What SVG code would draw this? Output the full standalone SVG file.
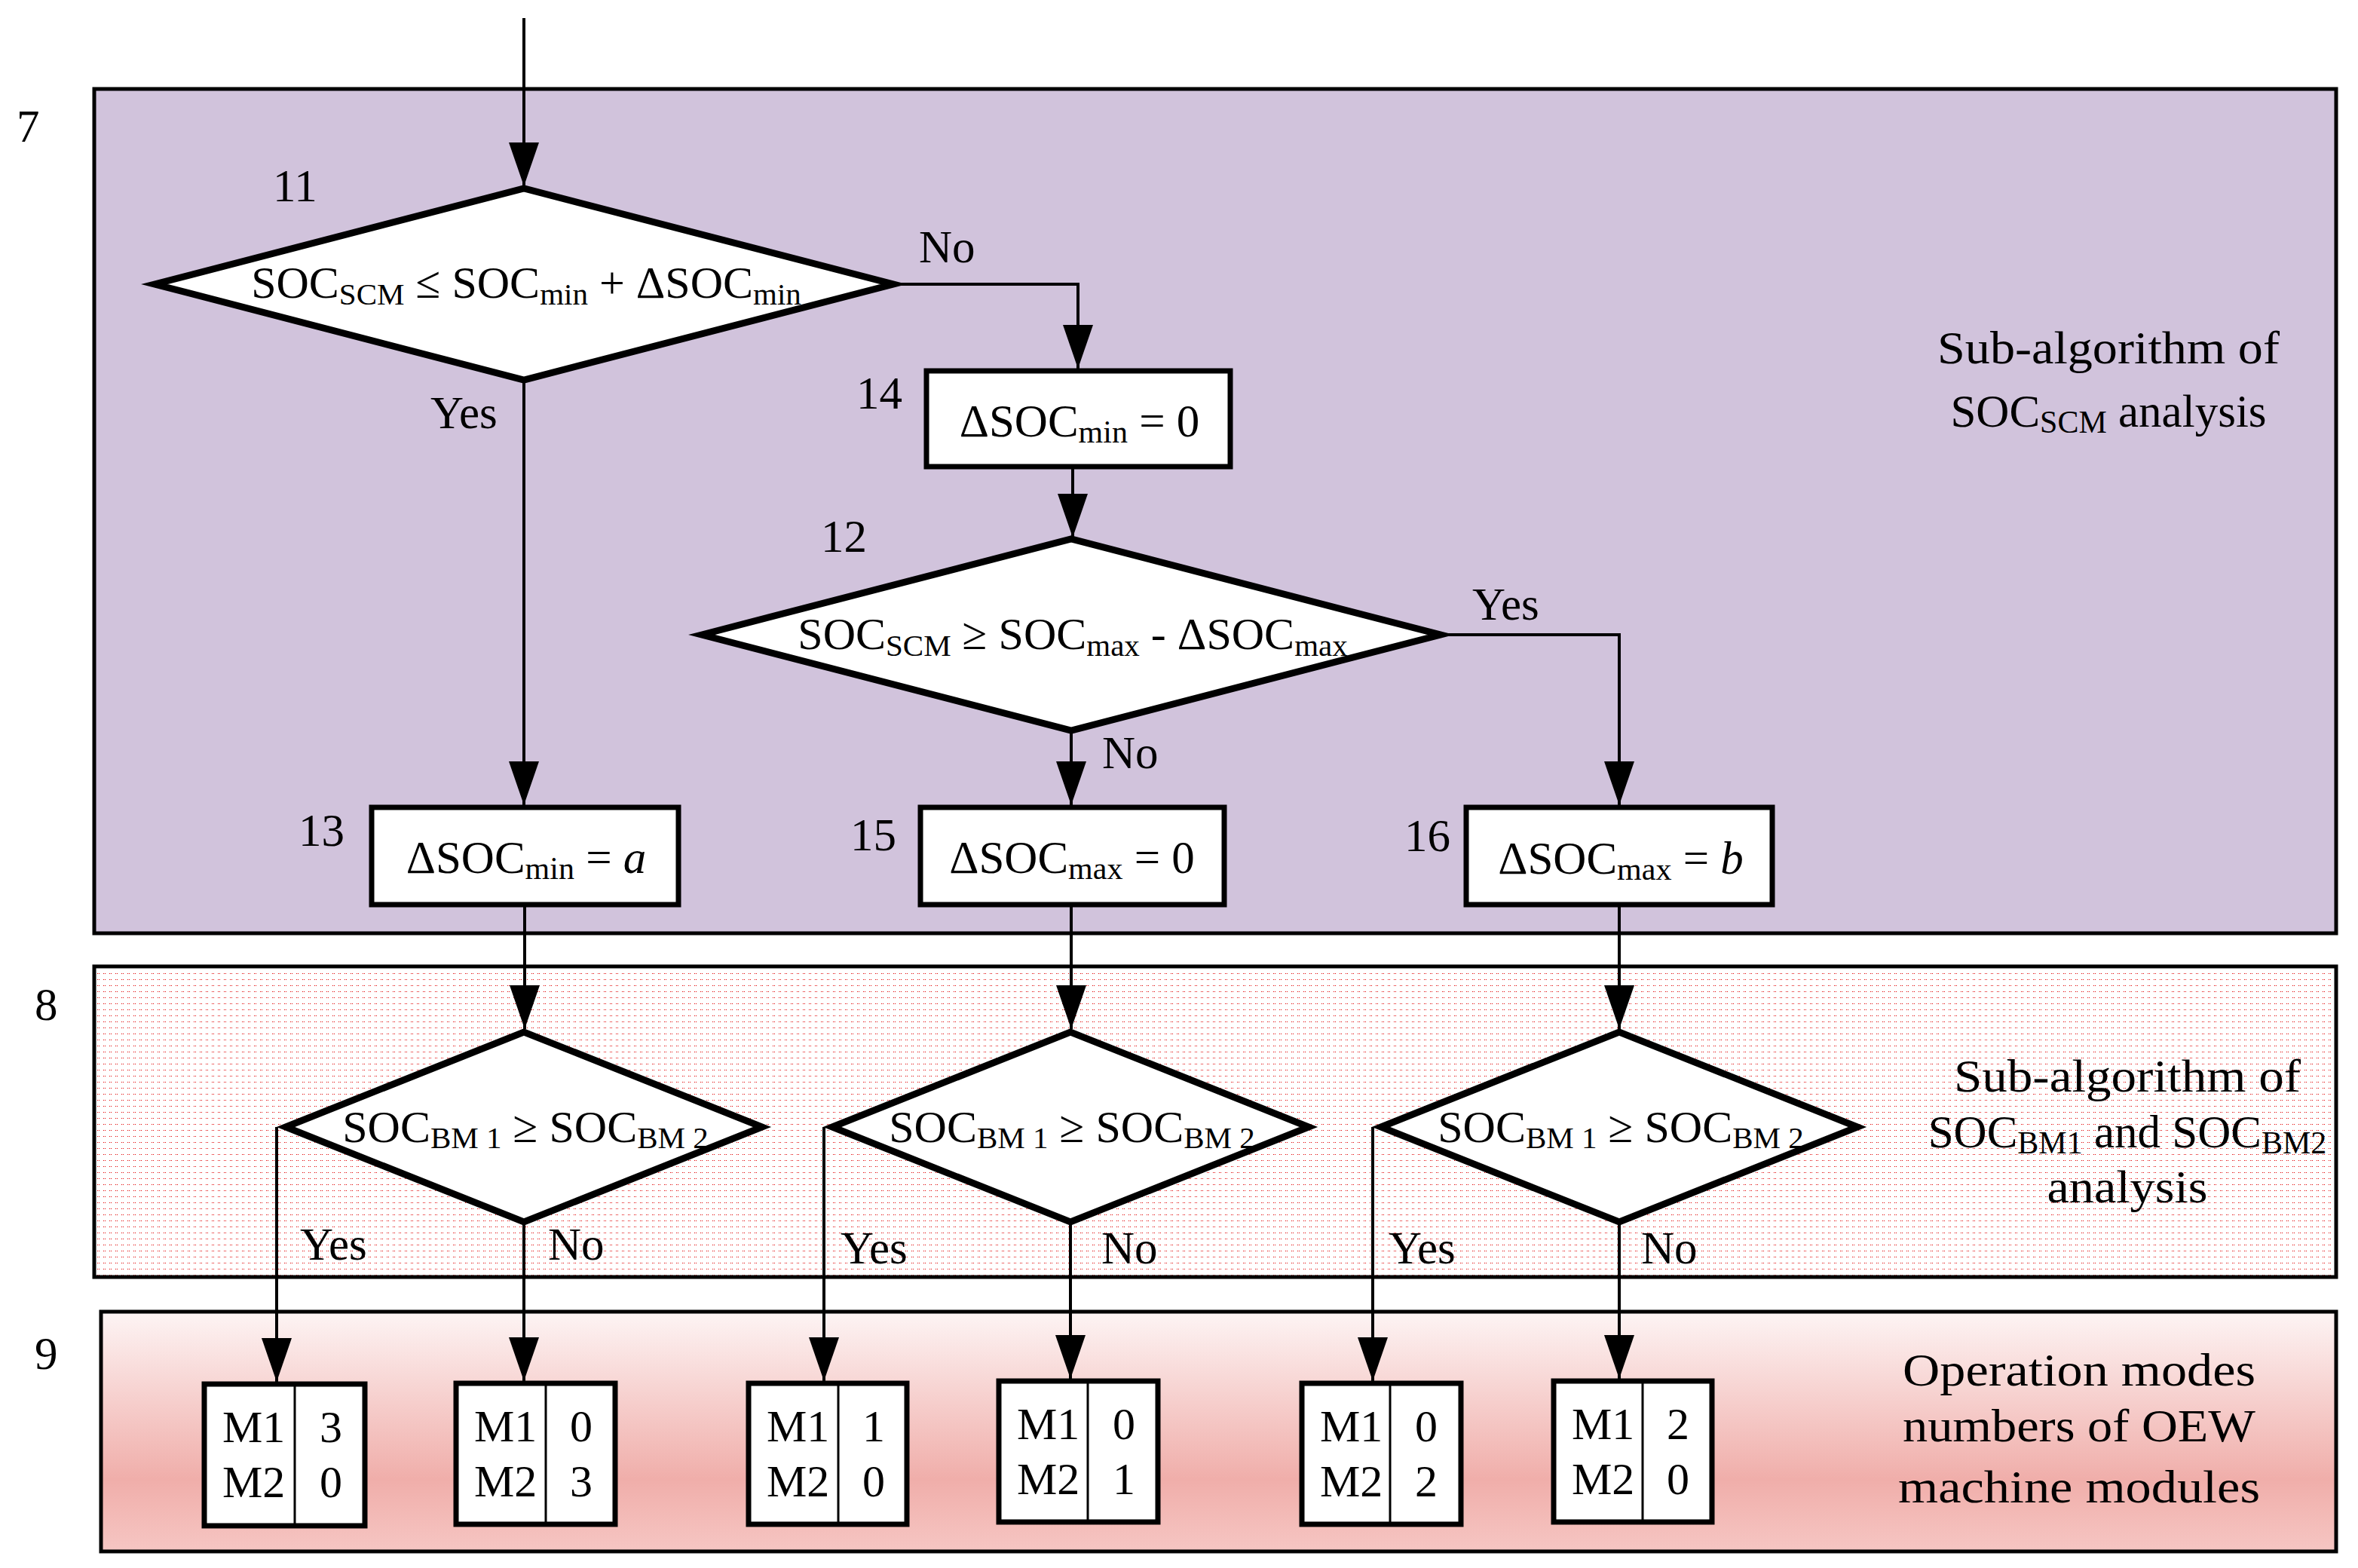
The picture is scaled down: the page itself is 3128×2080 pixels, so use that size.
<svg xmlns="http://www.w3.org/2000/svg" width="3128" height="2080" viewBox="0 0 3128 2080">
<defs>
<style>
text{font-family:"Liberation Serif","Times New Roman",serif;font-size:61px;fill:#000}
.sub{font-size:42px}
.dt{font-size:60px}
.dt .sub{font-size:41px}
.mid{text-anchor:middle}
.m{font-size:60px}
.reg{stroke:#000;stroke-width:5}
.dia{fill:#fff;stroke:#000;stroke-width:9;stroke-linejoin:miter;stroke-miterlimit:10}
.box{fill:#fff;stroke:#000;stroke-width:7}
.div{stroke:#000;stroke-width:3}
.con{fill:none;stroke:#000;stroke-width:4}
.arr{marker-end:url(#ah)}
</style>
<marker id="ah" markerUnits="userSpaceOnUse" viewBox="0 0 58 40" refX="58" refY="20" markerWidth="58" markerHeight="40" orient="auto">
<path d="M0,0 L58,20 L0,40 Z" fill="#000"/>
</marker>
<pattern id="dots" patternUnits="userSpaceOnUse" x="0" y="0" width="8" height="8">
<rect x="0" y="0" width="8" height="8" fill="#fff"/>
<rect x="1" y="3" width="1" height="1" fill="#e00000"/>
<rect x="3" y="3" width="1" height="1" fill="#e00000"/>
</pattern>
<linearGradient id="g9" x1="0" y1="0" x2="0" y2="1">
<stop offset="0" stop-color="#fdf4f4"/>
<stop offset="0.7" stop-color="#f0aeaa"/>
<stop offset="1" stop-color="#f6c6c3"/>
</linearGradient>
</defs>

<g id="regions">
<g id="region7">
<rect class="reg" x="125" y="118" width="2974" height="1120" fill="#d1c3dc"/>
<text x="22" y="188">7</text>
<text class="mid" x="2797" y="482" textLength="454" lengthAdjust="spacingAndGlyphs">Sub-algorithm of</text>
<text class="mid" x="2797" y="566">SOC<tspan class="sub" dy="8">SCM</tspan><tspan dy="-8"> analysis</tspan></text>
</g>
<g id="region8">
<rect class="reg" x="125" y="1282" width="2974" height="412" fill="url(#dots)"/>
<text x="46" y="1353">8</text>
<text class="mid" x="2822" y="1448" textLength="460" lengthAdjust="spacingAndGlyphs">Sub-algorithm of</text>
<text class="mid" x="2822" y="1522">SOC<tspan class="sub" dy="8">BM1</tspan><tspan dy="-8"> and  SOC</tspan><tspan class="sub" dy="8">BM2</tspan></text>
<text class="mid" x="2822" y="1595" textLength="213" lengthAdjust="spacingAndGlyphs">analysis</text>
</g>
<g id="region9">
<rect class="reg" x="134" y="1740" width="2965" height="318" fill="url(#g9)"/>
<text x="46" y="1816">9</text>
<text class="mid" x="2758" y="1838" textLength="468" lengthAdjust="spacingAndGlyphs">Operation modes</text>
<text class="mid" x="2758" y="1912" textLength="468" lengthAdjust="spacingAndGlyphs">numbers of OEW</text>
<text class="mid" x="2758" y="1993" textLength="480" lengthAdjust="spacingAndGlyphs">machine modules</text>
</g>
</g>

<g id="connectors">
<path class="con arr" d="M695,24 L695,247"/>
<path class="con arr" d="M695,504 L695,1068"/>
<path class="con arr" d="M1185,377 L1430,377 L1430,489"/>
<path class="con arr" d="M1423,622 L1423,713"/>
<path class="con arr" d="M1911,842 L2148,842 L2148,1068"/>
<path class="con arr" d="M1421,969 L1421,1068"/>
<path class="con arr" d="M696,1203 L696,1365"/>
<path class="con arr" d="M1421,1203 L1421,1365"/>
<path class="con arr" d="M2148,1203 L2148,1365"/>
<path class="con arr" d="M367,1495 L367,1833"/>
<path class="con arr" d="M695,1621 L695,1832"/>
<path class="con arr" d="M1093,1495 L1093,1832"/>
<path class="con arr" d="M1420,1621 L1420,1829"/>
<path class="con arr" d="M1821,1495 L1821,1832"/>
<path class="con arr" d="M2148,1621 L2148,1829"/>
<text x="1219" y="348">No</text>
<text x="571" y="568">Yes</text>
<text x="1953" y="822">Yes</text>
<text x="1462" y="1019">No</text>
<text x="398" y="1671">Yes</text>
<text x="727" y="1671">No</text>
<text x="1115" y="1676">Yes</text>
<text x="1461" y="1676">No</text>
<text x="1842" y="1676">Yes</text>
<text x="2177" y="1676">No</text>
</g>

<g id="n11">
<polygon class="dia" points="205,377 695,250 1185,377 695,504"/>
<text x="362" y="267">11</text>
<text class="mid dt" x="698" y="395">SOC<tspan class="sub" dy="9">SCM</tspan><tspan dy="-9"> ≤ SOC</tspan><tspan class="sub" dy="9">min</tspan><tspan dy="-9"> + ΔSOC</tspan><tspan class="sub" dy="9">min</tspan></text>
</g>
<g id="n14">
<rect class="box" x="1229" y="492" width="403" height="127"/>
<text x="1136" y="542">14</text>
<text class="mid" x="1432" y="579">ΔSOC<tspan class="sub" dy="8">min</tspan><tspan dy="-8"> = 0</tspan></text>
</g>
<g id="n12">
<polygon class="dia" points="931,842 1421,715 1911,842 1421,969"/>
<text x="1089" y="732">12</text>
<text class="mid dt" x="1423" y="861">SOC<tspan class="sub" dy="9">SCM</tspan><tspan dy="-9"> ≥ SOC</tspan><tspan class="sub" dy="9">max</tspan><tspan dy="-9"> - ΔSOC</tspan><tspan class="sub" dy="9">max</tspan></text>
</g>
<g id="n13">
<rect class="box" x="493" y="1071" width="407" height="129"/>
<text x="396" y="1122">13</text>
<text class="mid" x="698" y="1158">ΔSOC<tspan class="sub" dy="8">min</tspan><tspan dy="-8"> = </tspan><tspan font-style="italic">a</tspan></text>
</g>
<g id="n15">
<rect class="box" x="1221" y="1071" width="403" height="129"/>
<text x="1128" y="1128">15</text>
<text class="mid" x="1422" y="1158">ΔSOC<tspan class="sub" dy="8">max</tspan><tspan dy="-8"> = 0</tspan></text>
</g>
<g id="n16">
<rect class="box" x="1945" y="1071" width="406" height="129"/>
<text x="1863" y="1129">16</text>
<text class="mid" x="2150" y="1159">ΔSOC<tspan class="sub" dy="8">max</tspan><tspan dy="-8"> = </tspan><tspan font-style="italic">b</tspan></text>
</g>

<g id="bm1">
<polygon class="dia" points="379,1495 695,1369 1011,1495 695,1621"/>
<text class="mid dt" x="697" y="1515">SOC<tspan class="sub" dy="8">BM 1</tspan><tspan dy="-8"> ≥ SOC</tspan><tspan class="sub" dy="8">BM 2</tspan></text>
</g>
<g id="bm2">
<polygon class="dia" points="1104,1495 1420,1369 1736,1495 1420,1621"/>
<text class="mid dt" x="1422" y="1515">SOC<tspan class="sub" dy="8">BM 1</tspan><tspan dy="-8"> ≥ SOC</tspan><tspan class="sub" dy="8">BM 2</tspan></text>
</g>
<g id="bm3">
<polygon class="dia" points="1832,1495 2148,1369 2464,1495 2148,1621"/>
<text class="mid dt" x="2150" y="1515">SOC<tspan class="sub" dy="8">BM 1</tspan><tspan dy="-8"> ≥ SOC</tspan><tspan class="sub" dy="8">BM 2</tspan></text>
</g>

<g id="mode1">
<rect class="box" x="271" y="1836" width="213" height="188"/>
<line class="div" x1="391" y1="1836" x2="391" y2="2024"/>
<text class="m" x="295" y="1913">M1</text><text class="m" x="295" y="1986">M2</text>
<text class="m mid" x="439" y="1913">3</text><text class="m mid" x="439" y="1986">0</text>
</g>
<g id="mode2">
<rect class="box" x="605" y="1835" width="211" height="187"/>
<line class="div" x1="724" y1="1835" x2="724" y2="2022"/>
<text class="m" x="629" y="1912">M1</text><text class="m" x="629" y="1985">M2</text>
<text class="m mid" x="771" y="1912">0</text><text class="m mid" x="771" y="1985">3</text>
</g>
<g id="mode3">
<rect class="box" x="993" y="1835" width="210" height="187"/>
<line class="div" x1="1112" y1="1835" x2="1112" y2="2022"/>
<text class="m" x="1017" y="1912">M1</text><text class="m" x="1017" y="1985">M2</text>
<text class="m mid" x="1159" y="1912">1</text><text class="m mid" x="1159" y="1985">0</text>
</g>
<g id="mode4">
<rect class="box" x="1325" y="1832" width="211" height="187"/>
<line class="div" x1="1443" y1="1832" x2="1443" y2="2019"/>
<text class="m" x="1349" y="1909">M1</text><text class="m" x="1349" y="1982">M2</text>
<text class="m mid" x="1491" y="1909">0</text><text class="m mid" x="1491" y="1982">1</text>
</g>
<g id="mode5">
<rect class="box" x="1727" y="1835" width="211" height="187"/>
<line class="div" x1="1844" y1="1835" x2="1844" y2="2022"/>
<text class="m" x="1751" y="1912">M1</text><text class="m" x="1751" y="1985">M2</text>
<text class="m mid" x="1892" y="1912">0</text><text class="m mid" x="1892" y="1985">2</text>
</g>
<g id="mode6">
<rect class="box" x="2061" y="1832" width="210" height="187"/>
<line class="div" x1="2179" y1="1832" x2="2179" y2="2019"/>
<text class="m" x="2085" y="1909">M1</text><text class="m" x="2085" y="1982">M2</text>
<text class="m mid" x="2226" y="1909">2</text><text class="m mid" x="2226" y="1982">0</text>
</g>
</svg>
